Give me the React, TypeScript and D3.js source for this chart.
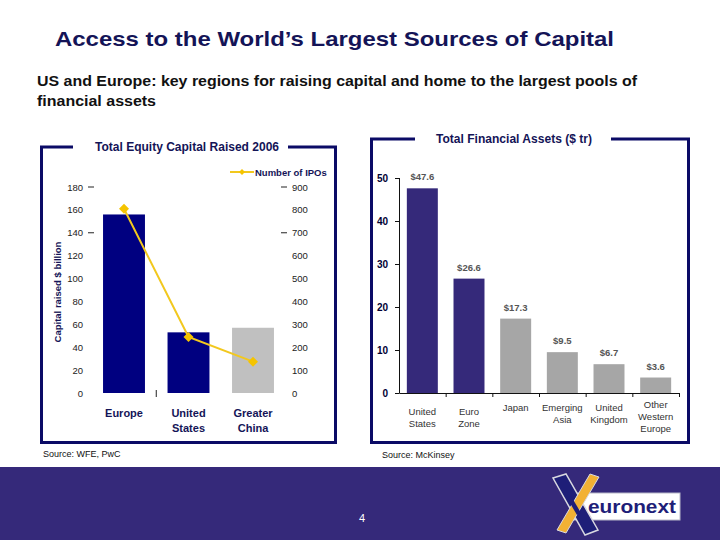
import React from "react";
import * as d3 from "d3";

const equityCategories: string[][] = [["Europe"], ["United", "States"], ["Greater", "China"]];
const equityRaised = [156, 53, 57];
const ipoCounts = [805, 245, 137];
const equityTicks = [0, 20, 40, 60, 80, 100, 120, 140, 160, 180];
const ipoTicks = [0, 100, 200, 300, 400, 500, 600, 700, 800, 900];
const equityDashTicks = [140, 180];
const ipoDashTicks = [700, 900];

const assetCategories: string[][] = [
  ["United", "States"],
  ["Euro", "Zone"],
  ["Japan"],
  ["Emerging", "Asia"],
  ["United", "Kingdom"],
  ["Other", "Western", "Europe"],
];
const assetValues = [47.6, 26.6, 17.3, 9.5, 6.7, 3.6];
const assetLabels = ["$47.6", "$26.6", "$17.3", "$9.5", "$6.7", "$3.6"];
const assetTicks = [0, 10, 20, 30, 40, 50];

const NAVY = "#0b0b66";
const PURPLE = "#35297a";
const FONT = "'Liberation Sans', Arial, sans-serif";

export default function App() {
  // Left chart scales
  const xL = d3
    .scaleBand<number>()
    .domain(d3.range(equityCategories.length))
    .range([91.75, 285.25])
    .paddingInner(0.35)
    .paddingOuter(0.175);
  const yL = d3.scaleLinear().domain([0, 180]).range([393, 187]);
  const yIpo = d3.scaleLinear().domain([0, 900]).range([393, 187]);
  const ipoLine = d3
    .line<number>()
    .x((_, i) => (xL(i) as number) + xL.bandwidth() / 2)
    .y((d) => yIpo(d));

  // Right chart scales
  const xR = d3
    .scaleBand<number>()
    .domain(d3.range(assetCategories.length))
    .range([399, 679])
    .paddingInner(0.336)
    .paddingOuter(0.168);
  const yR = d3.scaleLinear().domain([0, 50]).range([393, 178]);
  const stepR = xR.step();

  const diamond = (cx: number, cy: number, r: number) =>
    `M${cx},${cy - r}L${cx + r},${cy}L${cx},${cy + r}L${cx - r},${cy}Z`;

  return (
    <svg width={720} height={540} style={{ position: "absolute", left: 0, top: 0 }} fontFamily={FONT}>
      <rect x={0} y={0} width={720} height={540} fill="#ffffff" />

      {/* Title and subtitle */}
      <text x={55} y={46} fontSize={21} fontWeight="bold" fill="#141457" textLength={559} lengthAdjust="spacingAndGlyphs">
        Access to the World’s Largest Sources of Capital
      </text>
      <text x={37} y={86} fontSize={14} fontWeight="bold" fill="#111" textLength={600} lengthAdjust="spacingAndGlyphs">
        US and Europe: key regions for raising capital and home to the largest pools of
      </text>
      <text x={37} y={106} fontSize={14} fontWeight="bold" fill="#111" textLength={119} lengthAdjust="spacingAndGlyphs">
        financial assets
      </text>

      {/* ---------- Left chart ---------- */}
      <path d="M73,147 L41.5,147 L41.5,442.5 L335.5,442.5 L335.5,147 L288,147" fill="none" stroke={NAVY} strokeWidth={3} />
      <text x={187} y={151} fontSize={12} fontWeight="bold" fill="#141457" textAnchor="middle" textLength={184} lengthAdjust="spacingAndGlyphs">
        Total Equity Capital Raised 2006
      </text>

      {/* Legend */}
      <line x1={230} x2={254} y1={172} y2={172} stroke="#f2c81e" strokeWidth={2} />
      <path d={diamond(242, 172, 3)} fill="#f5c400" />
      <text x={255} y={175.5} fontSize={9.5} fontWeight="bold" fill="#141457">
        Number of IPOs
      </text>

      {/* Left y-axis labels */}
      {equityTicks.map((t) => (
        <text key={"l" + t} x={83} y={yL(t) + 3.5} fontSize={9.5} fill="#222" textAnchor="end">
          {t}
        </text>
      ))}
      {equityDashTicks.map((t) => (
        <line key={"ld" + t} x1={88} x2={94} y1={yL(t)} y2={yL(t)} stroke="#222" strokeWidth={1} />
      ))}
      {ipoTicks.map((t) => (
        <text key={"r" + t} x={292} y={yIpo(t) + 3.5} fontSize={9.5} fill="#222" textAnchor="start">
          {t}
        </text>
      ))}
      {ipoDashTicks.map((t) => (
        <line key={"rd" + t} x1={281} x2={287} y1={yIpo(t)} y2={yIpo(t)} stroke="#222" strokeWidth={1} />
      ))}
      <text
        transform="translate(61,292) rotate(-90)"
        fontSize={9.5}
        fontWeight="bold"
        fill="#141457"
        textAnchor="middle"
      >
        Capital raised $ billion
      </text>

      {/* Bars */}
      {equityRaised.map((v, i) => (
        <rect
          key={"eb" + i}
          x={xL(i)}
          y={yL(v)}
          width={xL.bandwidth()}
          height={yL(0) - yL(v)}
          fill={i < 2 ? "#000080" : "#c0c0c0"}
        />
      ))}
      <line
        x1={(xL(0) as number) + xL.bandwidth() + (xL.step() - xL.bandwidth()) / 2}
        x2={(xL(0) as number) + xL.bandwidth() + (xL.step() - xL.bandwidth()) / 2}
        y1={390}
        y2={397}
        stroke="#222"
        strokeWidth={1}
      />

      {/* IPO line */}
      <path d={ipoLine(ipoCounts) || ""} fill="none" stroke="#f2c81e" strokeWidth={2} />
      {ipoCounts.map((v, i) => (
        <path key={"ip" + i} d={diamond((xL(i) as number) + xL.bandwidth() / 2, yIpo(v), 5)} fill="#f5c400" />
      ))}

      {/* Left category labels */}
      {equityCategories.map((lines, i) => (
        <text
          key={"ec" + i}
          x={(xL(i) as number) + xL.bandwidth() / 2}
          y={417}
          fontSize={11}
          fontWeight="bold"
          fill="#141457"
          textAnchor="middle"
        >
          {lines.map((ln, j) => (
            <tspan key={j} x={(xL(i) as number) + xL.bandwidth() / 2} dy={j === 0 ? 0 : 14.5}>
              {ln}
            </tspan>
          ))}
        </text>
      ))}

      <text x={43} y={457} fontSize={9} fill="#111">
        Source:  WFE, PwC
      </text>

      {/* ---------- Right chart ---------- */}
      <path d="M415,139 L371.5,139 L371.5,442.5 L688.5,442.5 L688.5,139 L611,139" fill="none" stroke={NAVY} strokeWidth={3} />
      <text x={514} y={143} fontSize={12} fontWeight="bold" fill="#141457" textAnchor="middle" textLength={156} lengthAdjust="spacingAndGlyphs">
        Total Financial Assets ($ tr)
      </text>

      {/* Axis */}
      <line x1={399.5} x2={399.5} y1={yR(50)} y2={yR(0)} stroke="#111" strokeWidth={1} />
      <line x1={399.5} x2={679} y1={yR(0) + 0.5} y2={yR(0) + 0.5} stroke="#111" strokeWidth={1} />
      {assetTicks.map((t) => (
        <g key={"at" + t}>
          <line x1={395} x2={399.5} y1={yR(t) + 0.5} y2={yR(t) + 0.5} stroke="#111" strokeWidth={1} />
          <text x={388} y={yR(t) + 4} fontSize={10} fontWeight="bold" fill="#000033" textAnchor="end">
            {t}
          </text>
        </g>
      ))}
      {assetValues.map((_, i) => (
        <line
          key={"xt" + i}
          x1={399 + (i + 1) * stepR + 0.5}
          x2={399 + (i + 1) * stepR + 0.5}
          y1={yR(0)}
          y2={yR(0) + 4}
          stroke="#111"
          strokeWidth={1}
        />
      ))}

      {/* Bars */}
      {assetValues.map((v, i) => (
        <rect
          key={"ab" + i}
          x={xR(i)}
          y={yR(v)}
          width={xR.bandwidth()}
          height={yR(0) - yR(v)}
          fill={i < 2 ? PURPLE : "#a6a6a6"}
        />
      ))}
      {assetValues.map((v, i) => (
        <text
          key={"al" + i}
          x={(xR(i) as number) + xR.bandwidth() / 2}
          y={yR(v) - 8}
          fontSize={9.5}
          fontWeight="bold"
          fill="#555"
          textAnchor="middle"
        >
          {assetLabels[i]}
        </text>
      ))}

      {/* Category labels */}
      {assetCategories.map((lines, i) => {
        const cx = (xR(i) as number) + xR.bandwidth() / 2;
        const y0 = i < 2 ? 415 : lines.length === 3 ? 407.5 : 411;
        return (
          <text key={"ac" + i} x={cx} y={y0} fontSize={9.5} fill="#333" textAnchor="middle">
            {lines.map((ln, j) => (
              <tspan key={j} x={cx} dy={j === 0 ? 0 : 12}>
                {ln}
              </tspan>
            ))}
          </text>
        );
      })}

      <text x={382} y={458} fontSize={9} fill="#111">
        Source: McKinsey
      </text>

      {/* ---------- Footer band ---------- */}
      <rect x={0} y={467} width={720} height={73} fill={PURPLE} />
      <text x={362} y={522} fontSize={11} fill="#ffffff" textAnchor="middle">
        4
      </text>

      {/* Logo */}
      <rect x={572} y={493} width={108} height={27} fill="#ffffff" stroke="#b8b8c8" strokeWidth={1} />
      <path d="M553,478 L566,474 L598,530 L585,535 Z" fill="#1e1e78" stroke="#d8d8e0" strokeWidth={1.5} />
      <path d="M590,474 L599,477 L566,533 L557,530 Z" fill="#f2b134" stroke="#d8d8e0" strokeWidth={1} />
      <path d="M571,496 L581,513 L577,515 L567,498 Z" fill="#1e1e78" />
      <text x={588} y={513} fontSize={18} fontWeight="bold" fill="#1e1e78" textLength={88} lengthAdjust="spacingAndGlyphs">
        euronext
      </text>
    </svg>
  );
}
